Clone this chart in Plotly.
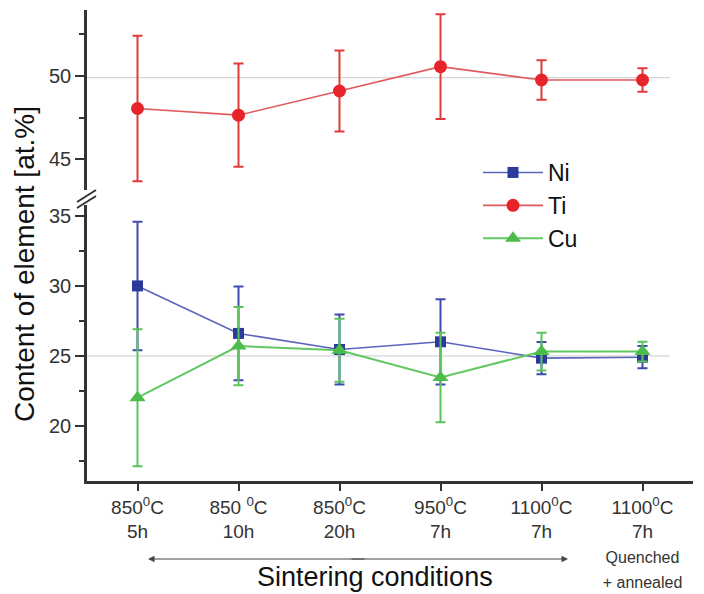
import plotly.graph_objects as go

# ---- data ----
conditions = ["850<sup>0</sup>C<br>5h", "850 <sup>0</sup>C<br>10h", "850<sup>0</sup>C<br>20h",
              "950<sup>0</sup>C<br>7h", "1100<sup>0</sup>C<br>7h",
              "1100<sup>0</sup>C<br>7h<br><span style='font-size:16px'>Quenched</span><br><span style='font-size:16px'>+ annealed</span>"]
x_idx = [0, 1, 2, 3, 4, 5]

ni_values = [30.0, 26.6, 25.45, 26.0, 24.83, 24.9]
ni_err = [4.6, 3.35, 2.5, 3.05, 1.15, 0.8]

ti_values = [48.05, 47.65, 49.1, 50.56, 49.76, 49.76]
ti_err = [4.37, 3.1, 2.43, 3.14, 1.18, 0.7]

cu_values = [22.0, 25.7, 25.4, 23.45, 25.3, 25.3]
cu_err = [4.9, 2.8, 2.25, 3.2, 1.35, 0.7]

top_ticks = [45, 50]
bottom_ticks = [20, 25, 30, 35]

FONT = "Liberation Sans, Arial, sans-serif"
AX = "#333333"

fig = go.Figure()

fig.add_trace(go.Scatter(
    x=x_idx, y=ni_values, name="Ni", mode="lines+markers", yaxis="y",
    line=dict(color="#5a64bc", width=1.6),
    marker=dict(symbol="square", size=11, color="#2c3a9c"),
    error_y=dict(type="data", array=ni_err, visible=True, color="#3f4cae", thickness=2, width=5),
))
fig.add_trace(go.Scatter(
    x=x_idx, y=ti_values, name="Ti", mode="lines+markers", yaxis="y2",
    line=dict(color="#e05a5a", width=1.6),
    marker=dict(symbol="circle", size=13, color="#e8242b"),
    error_y=dict(type="data", array=ti_err, visible=True, color="#e03a3a", thickness=2, width=5),
))
fig.add_trace(go.Scatter(
    x=x_idx, y=cu_values, name="Cu", mode="lines+markers", yaxis="y",
    line=dict(color="#62c862", width=2),
    marker=dict(symbol="triangle-up", size=14, color="#4cbc4c"),
    error_y=dict(type="data", array=cu_err, visible=True, color="#5cc45c", thickness=2, width=5),
))

plot_l, plot_r, plot_t, plot_b = 87, 693, 10, 481
W, H = 704, 594
pw, ph = plot_r - plot_l, plot_b - plot_t

def px_x(px):
    return (px - plot_l) / pw

def px_y(py):
    return (plot_b - py) / ph

common_y = dict(
    showgrid=False, zeroline=False, showline=True, linecolor=AX, linewidth=2.5,
    ticks="outside", ticklen=9, tickwidth=2, tickcolor=AX,
    tickfont=dict(family=FONT, size=20, color=AX),
    minor=dict(dtick=2.5, ticks="outside", ticklen=5, tickwidth=2, tickcolor=AX),
    dtick=5, automargin=False,
)

fig.update_layout(
    width=W, height=H,
    margin=dict(l=plot_l, r=W - plot_r, t=plot_t, b=H - plot_b, autoexpand=False),
    paper_bgcolor="white", plot_bgcolor="white",
    font=dict(family=FONT, color="#222"),
    xaxis=dict(
        range=[-0.5, 5.5], tickvals=x_idx, ticktext=conditions,
        showgrid=False, zeroline=False, showline=True, linecolor=AX, linewidth=2.5,
        ticks="outside", ticklen=7, tickwidth=2, tickcolor=AX,
        tickfont=dict(family=FONT, size=19, color="#333"),
        automargin=False,
        anchor="y",
    ),
    yaxis=dict(domain=[0, px_y(205)], range=[16.04, 35.79], tickvals=bottom_ticks, anchor="x", **common_y),
    yaxis2=dict(domain=[px_y(190), 1], range=[43.16, 53.96], tickvals=top_ticks, anchor="x", **common_y),
    showlegend=True,
    legend=dict(
        x=px_x(478), y=px_y(151), xanchor="left", yanchor="top",
        font=dict(family=FONT, size=23, color="#111"),
        bgcolor="rgba(0,0,0,0)", itemwidth=60, tracegroupgap=0,
    ),
)

# reference lines
fig.add_shape(type="line", xref="paper", yref="y", x0=0, x1=px_x(670), y0=25, y1=25,
              line=dict(color="#d6d6d6", width=1.2), layer="below")
fig.add_shape(type="line", xref="paper", yref="y2", x0=0, x1=px_x(670), y0=49.9, y1=49.9,
              line=dict(color="#d6d6d6", width=1.2), layer="below")

# axis break marks
for off in (0, 6):
    fig.add_shape(type="line", xref="paper", yref="paper",
                  x0=px_x(77), y0=px_y(202 + off), x1=px_x(96), y1=px_y(190 + off),
                  line=dict(color=AX, width=2))

# y title
fig.add_annotation(text="Content of element [at.%]", xref="paper", yref="paper",
                   x=px_x(24), y=px_y(264), xanchor="center", yanchor="middle",
                   showarrow=False, textangle=-90,
                   font=dict(family=FONT, size=28, color="#111"))
# x title
fig.add_annotation(text="Sintering conditions", xref="paper", yref="paper",
                   x=px_x(375), y=px_y(577), xanchor="center", yanchor="middle",
                   showarrow=False,
                   font=dict(family=FONT, size=27, color="#111"))
# double-headed arrow (two overlapping halves)
mid = (148 + 568) / 2
for end, sgn in ((148, 1), (568, -1)):
    fig.add_annotation(text="", xref="paper", yref="paper", x=px_x(end), y=px_y(559),
                       ax=mid - end + sgn * 8, ay=0, showarrow=True,
                       arrowhead=2, arrowsize=1.3, arrowwidth=1, arrowcolor="#444")

fig.write_html("out.html")
